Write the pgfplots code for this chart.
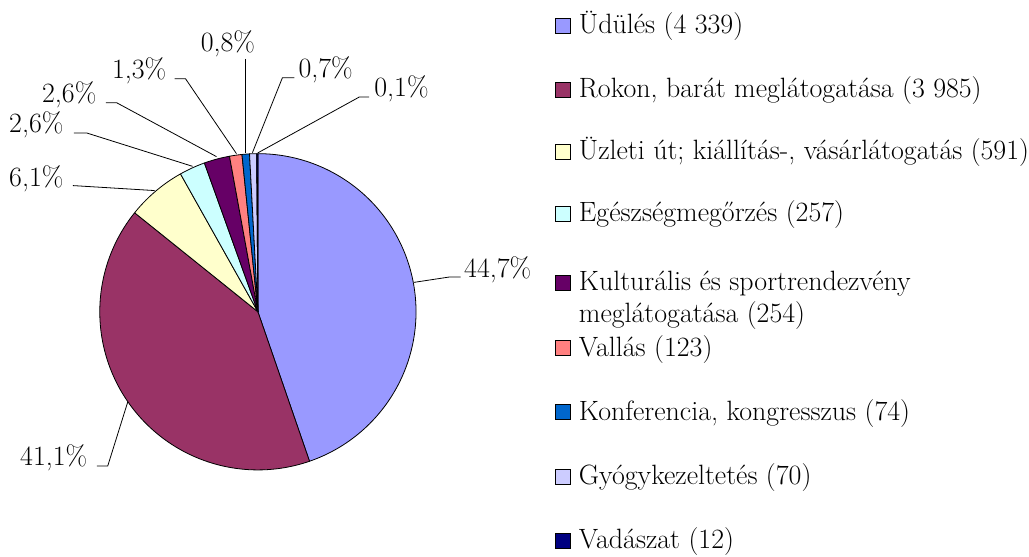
\documentclass[border=0pt]{standalone}
\usepackage{pgfplots}
\pgfplotsset{compat=1.18}
\usepackage{fontspec}

\definecolor{cA}{HTML}{9999FF}
\definecolor{cB}{HTML}{993366}
\definecolor{cC}{HTML}{FFFFCC}
\definecolor{cD}{HTML}{CCFFFF}
\definecolor{cE}{HTML}{660066}
\definecolor{cF}{HTML}{FF8080}
\definecolor{cG}{HTML}{0066CC}
\definecolor{cH}{HTML}{CCCCFF}
\definecolor{cI}{HTML}{000080}

% values (count of trips)
\def\vA{4339}\def\vB{3985}\def\vC{591}\def\vD{257}\def\vE{254}
\def\vF{123}\def\vG{74}\def\vH{70}\def\vI{12}
\pgfmathsetmacro\T{\vA+\vB+\vC+\vD+\vE+\vF+\vG+\vH+\vI}
\pgfmathsetmacro\sA{0}
\pgfmathsetmacro\sB{\sA+\vA}
\pgfmathsetmacro\sC{\sB+\vB}
\pgfmathsetmacro\sD{\sC+\vC}
\pgfmathsetmacro\sE{\sD+\vD}
\pgfmathsetmacro\sF{\sE+\vE}
\pgfmathsetmacro\sG{\sF+\vF}
\pgfmathsetmacro\sH{\sG+\vG}
\pgfmathsetmacro\sI{\sH+\vH}
\pgfmathsetmacro\sJ{\sI+\vI}
\pgfmathsetmacro\aA{90-(\sA/\T)*360}
\pgfmathsetmacro\aB{90-(\sB/\T)*360}
\pgfmathsetmacro\aC{90-(\sC/\T)*360}
\pgfmathsetmacro\aD{90-(\sD/\T)*360}
\pgfmathsetmacro\aE{90-(\sE/\T)*360}
\pgfmathsetmacro\aF{90-(\sF/\T)*360}
\pgfmathsetmacro\aG{90-(\sG/\T)*360}
\pgfmathsetmacro\aH{90-(\sH/\T)*360}
\pgfmathsetmacro\aI{90-(\sI/\T)*360}
\pgfmathsetmacro\aJ{90-(\sJ/\T)*360}

\def\cx{258.5}\def\cy{312.5}\def\R{158.5}

\begin{document}
\begin{tikzpicture}[font=\rmfamily\fontsize{21}{25}\selectfont]
\begin{axis}[
  scale only axis, width=771.75pt, height=418.5pt,
  xmin=0, xmax=1029, ymin=0, ymax=558, y dir=reverse,
  hide axis, clip=false,
  every axis plot/.append style={draw=black, line width=0.6pt, samples=120, variable=\t, line join=round},
]
\path[draw=none] (0,0) rectangle (1029,558);
\addplot[fill=cA, domain=\aB:\aA] ({\cx+\R*cos(\t)},{\cy-\R*sin(\t)}) -- (\cx,\cy) -- cycle;
\addplot[fill=cB, domain=\aC:\aB] ({\cx+\R*cos(\t)},{\cy-\R*sin(\t)}) -- (\cx,\cy) -- cycle;
\addplot[fill=cC, domain=\aD:\aC] ({\cx+\R*cos(\t)},{\cy-\R*sin(\t)}) -- (\cx,\cy) -- cycle;
\addplot[fill=cD, domain=\aE:\aD] ({\cx+\R*cos(\t)},{\cy-\R*sin(\t)}) -- (\cx,\cy) -- cycle;
\addplot[fill=cE, domain=\aF:\aE] ({\cx+\R*cos(\t)},{\cy-\R*sin(\t)}) -- (\cx,\cy) -- cycle;
\addplot[fill=cF, domain=\aG:\aF] ({\cx+\R*cos(\t)},{\cy-\R*sin(\t)}) -- (\cx,\cy) -- cycle;
\addplot[fill=cG, domain=\aH:\aG] ({\cx+\R*cos(\t)},{\cy-\R*sin(\t)}) -- (\cx,\cy) -- cycle;
\addplot[fill=cH, domain=\aI:\aH] ({\cx+\R*cos(\t)},{\cy-\R*sin(\t)}) -- (\cx,\cy) -- cycle;
\addplot[fill=cI, domain=\aJ:\aI, samples=5] ({\cx+\R*cos(\t)},{\cy-\R*sin(\t)}) -- (\cx,\cy) -- cycle;

% leader lines
\begin{scope}[line width=0.6pt]
\draw (415,283) -- (450,277.7) -- (461.7,277.7);
\draw (97,467) -- (108,467) -- (128,403);
\draw (73,186) -- (155,191);
\draw (74,133.3) -- (87,133.3) -- (193,166.7);
\draw (106,103) -- (117,103) -- (217,157);
\draw (175,79) -- (186,79) -- (237,154);
\draw (246,59) -- (246,153);
\draw (295,78) -- (283,78) -- (253,153);
\draw (370,97.3) -- (360,97.3) -- (258.3,153.3);
\end{scope}
\begin{scope}[every node/.style={inner sep=0pt, anchor=base west}]
\node at (465,278) {44,7\%};
\node at (20,467) {41,1\%};
\node at (9,187) {6,1\%};
\node at (9,133) {2,6\%};
\node at (42,103) {2,6\%};
\node at (112,79) {1,3\%};
\node at (201,52) {0,8\%};
\node at (299,78) {0,7\%};
\node at (375,97) {0,1\%};
\end{scope}

% legend
\begin{scope}[every node/.style={inner sep=0pt, anchor=base west}]
\draw[fill=cA, line width=0.5pt] (557,18) rectangle (572,33); \node at (580,33.5) {Üdülés (4 339)};
\draw[fill=cB, line width=0.5pt] (557,82.5) rectangle (572,97.5); \node at (580,98) {Rokon, barát meglátogatása (3 985)};
\draw[fill=cC, line width=0.5pt] (557,144.5) rectangle (572,159.5); \node at (580,160) {Üzleti út; kiállítás-, vásárlátogatás (591)};
\draw[fill=cD, line width=0.5pt] (557,206.5) rectangle (572,221.5); \node at (580,222) {Egészségmegőrzés (257)};
\draw[fill=cE, line width=0.5pt] (557,275.5) rectangle (572,290.5); \node at (580,291) {Kulturális és sportrendezvény};
\node at (580,323) {meglátogatása (254)};
\draw[fill=cF, line width=0.5pt] (557,341.5) rectangle (572,356.5); \node at (580,357) {Vallás (123)};
\draw[fill=cG, line width=0.5pt] (557,405.5) rectangle (572,420.5); \node at (580,421) {Konferencia, kongresszus (74)};
\draw[fill=cH, line width=0.5pt] (557,470.5) rectangle (572,485.5); \node at (580,486) {Gyógykezeltetés (70)};
\draw[fill=cI, line width=0.5pt] (557,534.5) rectangle (572,549.5); \node at (580,550) {Vadászat (12)};
\end{scope}
\end{axis}
\end{tikzpicture}
\end{document}
